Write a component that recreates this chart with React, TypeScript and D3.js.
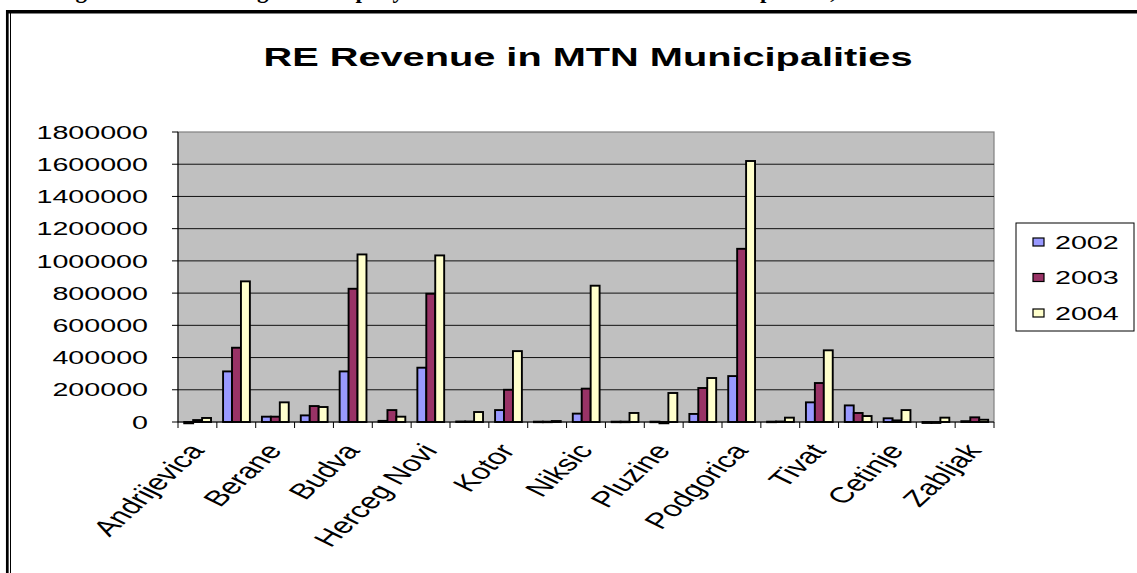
import React from "react";
import * as d3 from "d3";

const categories = [
  "Andrijevica", "Bar", "Berane", "Bijelo Polje", "Budva", "Danilovgrad",
  "Herceg Novi", "Kolasin", "Kotor", "Mojkovac", "Niksic", "Plav", "Pluzine",
  "Pljevlja", "Podgorica", "Rozaje", "Tivat", "Ulcinj", "Cetinje", "Savnik", "Zabljak",
];
const series = ["2002", "2003", "2004"];
const values2002 = [-8000, 314000, 33000, 41000, 314000, 7000, 337000, 3000, 74000, 2000, 52000, 2000, 2000, 50000, 285000, 2000, 122000, 103000, 23000, -6000, 5000];
const values2003 = [12000, 461000, 33000, 99000, 827000, 74000, 796000, 3000, 200000, 2000, 207000, 2000, -8000, 211000, 1075000, 3000, 242000, 56000, 10000, -6000, 29000];
const values2004 = [25000, 873000, 122000, 93000, 1040000, 33000, 1034000, 62000, 440000, 6000, 846000, 56000, 180000, 273000, 1620000, 27000, 445000, 37000, 74000, 27000, 14000];
const yTicks = [0, 200000, 400000, 600000, 800000, 1000000, 1200000, 1400000, 1600000, 1800000];
const colors = ["#9999FF", "#993366", "#FFFFCC"];
const title = "RE Revenue in MTN Municipalities";
const caption = "Figure 4: RE Earnings of Company Revenue Collection in MTN Municipalities, 2002-2004";

export default function App() {
  const W = 1137, H = 573;
  const left = 178, right = 994, top = 132, bottom = 422;
  const SX = 1.55;
  const font = "Arial, 'Liberation Sans', sans-serif";

  const x0 = d3.scaleBand<string>().domain(categories).range([left, right]).padding(0);
  const bw = x0.bandwidth();
  const x1 = d3.scaleBand<string>().domain(series).range([bw * 0.16, bw * 0.85]).padding(0);
  const y = d3.scaleLinear().domain([0, 1800000]).range([bottom, top]);
  const data = [values2002, values2003, values2004];

  return (
    <svg width={W} height={H} style={{ position: "absolute", left: 0, top: 0, background: "#fff" }}>
      {/* cut caption at top */}
      <text x={55} y={-2} fontFamily="'Liberation Serif', 'Times New Roman', serif" fontWeight="bold" fontSize={23}>{caption}</text>
      {/* frame */}
      <line x1={6} x2={W} y1={11.7} y2={11.7} stroke="#000" strokeWidth={3.5} />
      <line x1={7.3} x2={7.3} y1={10} y2={H} stroke="#000" strokeWidth={2.7} />
      <line x1={10.5} x2={10.5} y1={13} y2={H} stroke="#000" strokeWidth={1} />

      {/* title */}
      <text transform={`translate(588,66) scale(1.5,1)`} textAnchor="middle" fontFamily={font} fontWeight="bold" fontSize={26.5}>{title}</text>

      {/* plot area */}
      <rect x={left} y={top} width={right - left} height={bottom - top} fill="#C0C0C0" stroke="#808080" strokeWidth={1.2} />
      {yTicks.filter(t => t > 0 && t < 1800000).map(t => (
        <line key={t} x1={left} x2={right} y1={y(t)} y2={y(t)} stroke="#111" strokeWidth={1} />
      ))}

      {/* bars */}
      {categories.map((c, i) => (
        <g key={c} transform={`translate(${x0(c)},0)`}>
          {series.map((s, k) => {
            const v = data[k][i];
            const yv = y(v), y0 = y(0);
            return (
              <rect key={s} x={x1(s)} width={x1.bandwidth()} y={Math.min(yv, y0)} height={Math.max(Math.abs(y0 - yv), 0.5)}
                fill={colors[k]} stroke="#000" strokeWidth={1.9} />
            );
          })}
        </g>
      ))}

      {/* axes */}
      <line x1={left} x2={left} y1={top} y2={bottom} stroke="#000" strokeWidth={1} />
      <line x1={left} x2={right} y1={bottom} y2={bottom} stroke="#000" strokeWidth={1} />
      {yTicks.map(t => (
        <g key={t}>
          <line x1={left - 6} x2={left} y1={y(t)} y2={y(t)} stroke="#000" />
          <text transform={`translate(148,${y(t)}) scale(${SX},1)`} textAnchor="end" dy="0.36em" fontFamily={font} fontSize={18.5}>{t}</text>
        </g>
      ))}
      {categories.map((c) => (
        <line key={c} x1={x0(c)} x2={x0(c)} y1={bottom} y2={bottom + 6} stroke="#000" />
      ))}
      <line x1={right} x2={right} y1={bottom} y2={bottom + 6} stroke="#000" />
      {categories.map((c, i) => i % 2 === 0 ? (
        <text key={c} transform={`translate(${(x0(c) as number) + bw / 2 + 8},${bottom + 29}) scale(1.5,1) rotate(-53.5)`}
          textAnchor="end" fontFamily={font} fontSize={22}>{c}</text>
      ) : null)}

      {/* legend */}
      <rect x={1016} y={223} width={118} height={108} fill="#fff" stroke="#000" strokeWidth={1} />
      {series.map((s, k) => (
        <g key={s} transform={`translate(1033,${242 + k * 35.5})`}>
          <rect x={0} y={-4} width={11} height={8} fill={colors[k]} stroke="#000" strokeWidth={1.2} />
          <text transform={`translate(22,0) scale(${SX},1)`} dy="0.36em" fontFamily={font} fontSize={18.5}>{s}</text>
        </g>
      ))}
    </svg>
  );
}
